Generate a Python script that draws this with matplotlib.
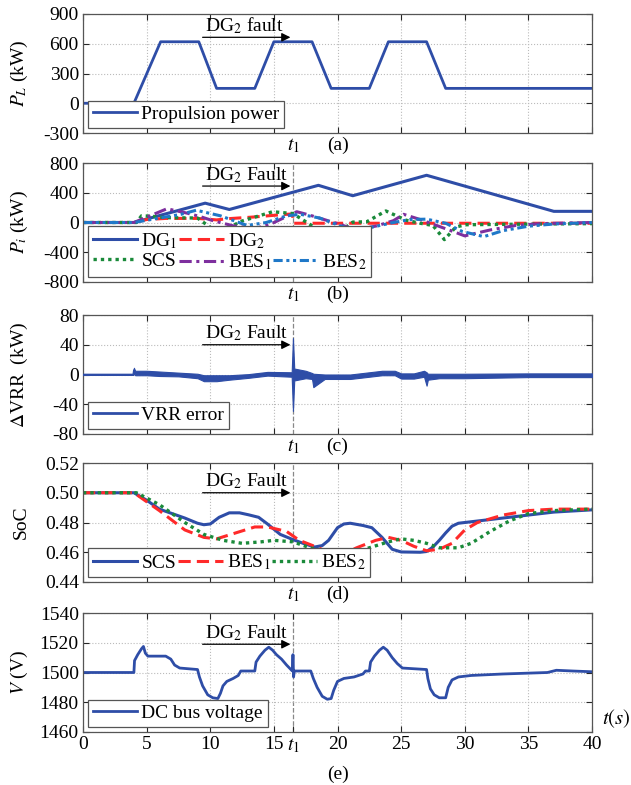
import matplotlib
matplotlib.use("Agg")
import matplotlib.pyplot as plt
import matplotlib.transforms as mtransforms
from matplotlib.lines import Line2D
import numpy as np

plt.rcParams['font.family'] = ['Liberation Serif', 'DejaVu Serif']
plt.rcParams['mathtext.fontset'] = 'stix'
plt.rcParams['axes.unicode_minus'] = False
plt.rcParams['font.size'] = 14

# fault instant
t1 = 16.5

# (a) propulsion power (kW)
pl_t = [0, 4.0, 6.1, 9.1, 10.5, 13.5, 15.0, 18.0, 19.5, 22.5, 24.0, 27.0, 28.5, 40]
pl_v = [0, 0, 620, 620, 150, 150, 620, 620, 150, 150, 620, 620, 150, 150]

# (b) unit powers (kW)
dg1_t = [0, 4.0, 9.6, 11.5, 18.5, 21.2, 27.0, 37.0, 40]
dg1_v = [0, 0, 260, 175, 500, 360, 635, 150, 150]

dg2_t = [0, 4.0, 5.0, 6.5, 9.0, 10.5, 11.3, 13.5, 15.6, 16.45, 16.55, 40]
dg2_v = [0, 0, 40, 55, 55, 35, 50, 75, 105, 115, -10, -10]

scs_t = [0, 4.2, 4.6, 5.3, 6.5, 9.0, 10.6, 12.5, 14.9, 16.5, 17.6, 19.5, 21.2, 22.3,
         23.8, 25.4, 26.5, 27.5, 28.4, 29.3, 30.1, 33.0, 40]
scs_v = [0, 0, 90, 85, 65, 60, -140, 20, 145, 120, 0, -210, 5, 10,
         155, 30, -10, -40, -230, -60, -30, -25, -15]

bes1_t = [0, 4.0, 6.6, 8.2, 9.2, 10.2, 11.8, 13.5, 14.7, 16.8, 17.8, 19.9, 21.5,
          23.1, 24.4, 25.2, 26.5, 28.6, 30.0, 32.0, 34.0, 36.0, 40]
bes1_v = [0, 0, 185, 125, 80, 25, -45, -80, -25, 145, 100, -10, -100,
          -45, 25, 110, 40, -90, -180, -100, -40, -15, 0]

bes2_t = [0, 4.0, 7.7, 8.9, 10.8, 12.9, 14.4, 16.0, 17.1, 18.6, 20.2, 21.2, 22.8,
          24.4, 25.7, 27.0, 28.5, 29.8, 31.5, 33.0, 35.0, 37.0, 40]
bes2_v = [0, 0, 110, 165, 90, -40, 0, 90, 110, 60, -45, -100, -60,
          0, 40, 45, -10, -120, -190, -110, -50, -20, 0]

# (c) VRR error band: centre and half width (kW)
vrr_t = [0, 3.95, 4.0, 4.1, 5.0, 6.0, 7.5, 9.0, 9.5, 10.5, 11.5, 13.0, 14.5, 16.4,
         16.5, 16.6, 17.5, 18.0, 18.1, 19.0, 21.0, 22.0, 23.5, 24.5, 25.0, 26.0,
         26.8, 27.0, 27.1, 28.0, 30.0, 35.0, 40]
vrr_c = [0, 0, 6, 2, 2, 1, 0, -2, -5, -5, -4, -2, 1, 0,
         0, 0, 0, -2, -8, -3, -3, -1, 2, 2, -2, -2,
         1, -6, -3, -2, -2, -1, -1]
vrr_w = [0.6, 0.6, 3, 3, 3, 3, 2.5, 3, 4, 4, 3, 2.5, 2.5, 3,
         49, 8, 5, 4, 9, 3, 3, 3, 3, 3, 3.5, 3.5,
         4, 9, 4, 3, 3, 2.5, 2.5]

# (d) state of charge
scs_soc_t = [0, 4.0, 5.0, 6.0, 7.0, 8.0, 9.0, 9.5, 10.0, 10.7, 11.5, 12.3, 13.0, 13.8,
             14.5, 15.5, 16.5, 17.3, 18.2, 18.8, 19.3, 20.0, 20.5, 21.0, 22.0, 22.7,
             23.5, 24.3, 25.0, 26.5, 27.0, 27.5, 28.0, 28.5, 29.0, 29.5, 31.0, 33.0,
             35.0, 37.0, 40]
scs_soc_v = [0.5, 0.5, 0.495, 0.489, 0.486, 0.483, 0.4795, 0.4785, 0.479, 0.4835, 0.4865,
             0.4865, 0.4852, 0.4835, 0.479, 0.472, 0.4685, 0.466, 0.4635, 0.4645, 0.468,
             0.4765, 0.479, 0.4795, 0.478, 0.4765, 0.470, 0.462, 0.4602, 0.4600, 0.4605,
             0.4635, 0.468, 0.473, 0.4775, 0.4795, 0.481, 0.483, 0.485, 0.487, 0.4885]

bes1_soc_t = [0, 4.0, 6.0, 8.0, 9.5, 10.5, 12.0, 13.5, 14.5, 16.0, 17.0, 18.5, 19.5,
              20.5, 21.5, 23.0, 24.0, 25.0, 26.0, 27.0, 28.0, 29.0, 30.0, 31.0, 33.0,
              35.0, 37.0, 40]
bes1_soc_v = [0.5, 0.5, 0.488, 0.475, 0.470, 0.469, 0.473, 0.477, 0.477, 0.474, 0.468,
              0.463, 0.459, 0.459, 0.463, 0.468, 0.470, 0.468, 0.464, 0.461, 0.462,
              0.466, 0.475, 0.480, 0.485, 0.488, 0.489, 0.489]

bes2_soc_t = [0, 4.2, 6.0, 8.0, 9.5, 11.0, 12.5, 14.0, 15.0, 16.5, 17.5, 19.0, 20.0,
              21.0, 22.5, 24.0, 25.0, 26.0, 27.0, 28.0, 29.5, 30.5, 32.0, 33.5, 35.0,
              37.0, 40]
bes2_soc_v = [0.5, 0.5, 0.492, 0.480, 0.472, 0.468, 0.466, 0.467, 0.468, 0.467, 0.464,
              0.460, 0.459, 0.459, 0.463, 0.467, 0.469, 0.468, 0.466, 0.463, 0.463,
              0.466, 0.474, 0.481, 0.486, 0.488, 0.489]

# (e) DC bus voltage (V)
v_t = [0, 4.0, 4.05, 4.3, 4.6, 4.75, 4.9, 5.1, 6.5, 6.9, 7.2, 7.6, 9.0, 9.15, 9.4, 9.8,
       10.2, 10.6, 10.8, 11.0, 11.3, 11.8, 12.2, 12.4, 13.5, 13.6, 13.9, 14.3, 14.6,
       14.9, 15.2, 15.6, 16.0, 16.45, 16.5, 16.55, 16.6, 17.9, 18.1, 18.4, 18.8, 19.2,
       19.5, 19.7, 20.0, 20.5, 21.3, 22.0, 22.2, 22.5, 22.6, 22.9, 23.3, 23.6, 23.9,
       24.3, 24.7, 25.1, 27.0, 27.1, 27.3, 27.6, 28.0, 28.5, 28.7, 29.0, 29.5, 30.5,
       33.0, 36.5, 37.2, 38.5, 40]
v_v = [1500, 1500, 1508, 1512, 1516, 1517.5, 1513, 1511, 1511, 1509, 1505, 1503, 1502,
       1497, 1491, 1485, 1483, 1482.5, 1486, 1491, 1494, 1496, 1498, 1501, 1501, 1507,
       1511, 1515, 1517, 1515, 1512, 1509, 1505, 1501, 1512, 1497, 1501, 1501, 1496,
       1490, 1484, 1482, 1482.5, 1488, 1494, 1496, 1497, 1499, 1501, 1501, 1507, 1511,
       1515, 1517, 1515, 1510, 1506, 1503, 1502, 1496, 1489, 1485, 1483, 1483, 1490,
       1495, 1497, 1498, 1499, 1500, 1501.5, 1501, 1500.5]

blue = '#2E4DA7'
red = '#FF2A2A'
green = '#1A8A3A'
purple = '#7E2F9E'
lblue = '#1F78C8'

fig = plt.figure(figsize=(6.31, 7.85), dpi=100)
left, width, height = 83 / 631, 509 / 631, 119 / 785
bottoms = [652, 503, 351, 203, 53]
axes = [fig.add_axes([left, b / 785, width, height]) for b in bottoms]

ylims = [(-300, 900), (-800, 800), (-80, 80), (0.44, 0.52), (1460, 1540)]
yticks = [np.arange(-300, 901, 300), np.arange(-800, 801, 400), np.arange(-80, 81, 40),
          [0.44, 0.46, 0.48, 0.50, 0.52], np.arange(1460, 1541, 20)]
ylabels = ['$P_L$ (kW)', '$P_i$ (kW)', '$\\Delta$VRR  (kW)', 'SoC', '$V$ (V)']
letters = ['(a)', '(b)', '(c)', '(d)', '(e)']
# arrow height for the fault annotation
arrow_y = [665, 490, 40, 0.500, 1519]
fault_txt = ['DG$_2$ fault', 'DG$_2$ Fault', 'DG$_2$ Fault', 'DG$_2$ Fault', 'DG$_2$ Fault']

for i, ax in enumerate(axes):
    ax.set_xlim(0, 40)
    ax.set_ylim(*ylims[i])
    ax.set_yticks(yticks[i])
    if i == 3:
        ax.set_yticklabels(['0.44', '0.46', '0.48', '0.50', '0.52'])
    ax.set_xticks(np.arange(0, 41, 5))
    ax.grid(True, color='#BBBBBB', linestyle=':', linewidth=0.8)
    ax.tick_params(direction='in', top=True, right=True, length=4, width=0.8,
                   colors='#262626', labelcolor='black', labelsize=14, pad=3)
    for s in ax.spines.values():
        s.set_color('#555555')
        s.set_linewidth(0.9)
    ax.set_ylabel(ylabels[i], fontsize=14)
    ax.yaxis.set_label_coords(-0.105, 0.5)
    if i > 0:
        ax.axvline(t1, color='#888888', linestyle='--', linewidth=0.9, zorder=1)
    ax.annotate('', xy=(16.3, arrow_y[i]), xytext=(9.4, arrow_y[i]),
                arrowprops=dict(arrowstyle='-|>', color='black', lw=0.9,
                                mutation_scale=13, shrinkA=0, shrinkB=0), zorder=6)
    ax.annotate(fault_txt[i], xy=(9.6, arrow_y[i]), xytext=(0, 1),
                textcoords='offset points', ha='left', va='bottom', fontsize=14, zorder=6)
    if i < 4:
        ax.set_xticklabels([])
        trans = mtransforms.blended_transform_factory(ax.transData, ax.transAxes)
        ax.text(t1, -0.03, '$t_1$', transform=trans, ha='center', va='top', fontsize=14)
        ax.text(20, -0.03, letters[i], transform=trans, ha='center', va='top', fontsize=14)

# (a)
axes[0].plot(pl_t, pl_v, color=blue, lw=2, label='Propulsion power')

# (b)
ax = axes[1]
h1, = ax.plot(dg1_t, dg1_v, color=blue, lw=2.2, label='DG$_1$')
h2, = ax.plot(dg2_t, dg2_v, color=red, lw=2.2, ls=(0, (4, 2)), label='DG$_2$')
h3, = ax.plot(scs_t, scs_v, color=green, lw=2.4, ls=(0, (1, 1.2)), label='SCS')
h4, = ax.plot(bes1_t, bes1_v, color=purple, lw=2.2, ls=(0, (4, 1.5, 1, 1.5)), label='BES$_1$')
h5, = ax.plot(bes2_t, bes2_v, color=lblue, lw=2.2, ls=(0, (3, 1.2, 1, 1.2, 1, 1.2)), label='BES$_2$')
blank = Line2D([], [], color='none')

# (c)
ax = axes[2]
vt = np.array(vrr_t)
vc = np.array(vrr_c)
vw = np.array(vrr_w)
ax.fill_between(vt, vc - vw, vc + vw, color=blue, lw=0.8, edgecolor=blue, zorder=3)
ax.plot(vt, vc, color=blue, lw=1.2, zorder=3)
vrr_handle = Line2D([], [], color=blue, lw=2)

# (d)
ax = axes[3]
ax.plot(scs_soc_t, scs_soc_v, color=blue, lw=2.2, label='SCS')
ax.plot(bes1_soc_t, bes1_soc_v, color=red, lw=2.2, ls=(0, (4, 2)), label='BES$_1$')
ax.plot(bes2_soc_t, bes2_soc_v, color=green, lw=2.4, ls=(0, (1, 1.2)), label='BES$_2$')

# (e)
ax = axes[4]
ax.plot(v_t, v_v, color=blue, lw=2, label='DC bus voltage')
ax.set_xticks([0, 5, 10, 15, t1, 20, 25, 30, 35, 40])
ax.set_xticklabels(['0', '5', '10', '15', '$t_1$', '20', '25', '30', '35', '40'])
ax.xaxis.get_major_ticks()[4].gridline.set_visible(False)
ax.text(1.02, 0.02, '$t(s)$', transform=ax.transAxes, ha='left', va='bottom', fontsize=15)
ax.text(0.5, -0.28, '(e)', transform=ax.transAxes, ha='center', va='top', fontsize=14)

leg_kw = dict(loc='lower left', fancybox=False, framealpha=1, edgecolor='#555555',
              borderaxespad=0.25, handlelength=2.3, handletextpad=0.2,
              borderpad=0.25, fontsize=14, labelspacing=0.1)
for i in [0, 4]:
    axes[i].legend(**leg_kw).get_frame().set_linewidth(0.9)
axes[2].legend([vrr_handle], ['VRR error'], **leg_kw).get_frame().set_linewidth(0.9)
kw_b = dict(leg_kw)
kw_b.update(ncol=3, columnspacing=0.1)
axes[1].legend([h1, h3, h2, h4, blank, h5],
               ['DG$_1$', 'SCS', 'DG$_2$', 'BES$_1$', '', 'BES$_2$'],
               **kw_b).get_frame().set_linewidth(0.9)
axes[3].legend(**kw_b).get_frame().set_linewidth(0.9)

fig.savefig('out.png', dpi=100)
